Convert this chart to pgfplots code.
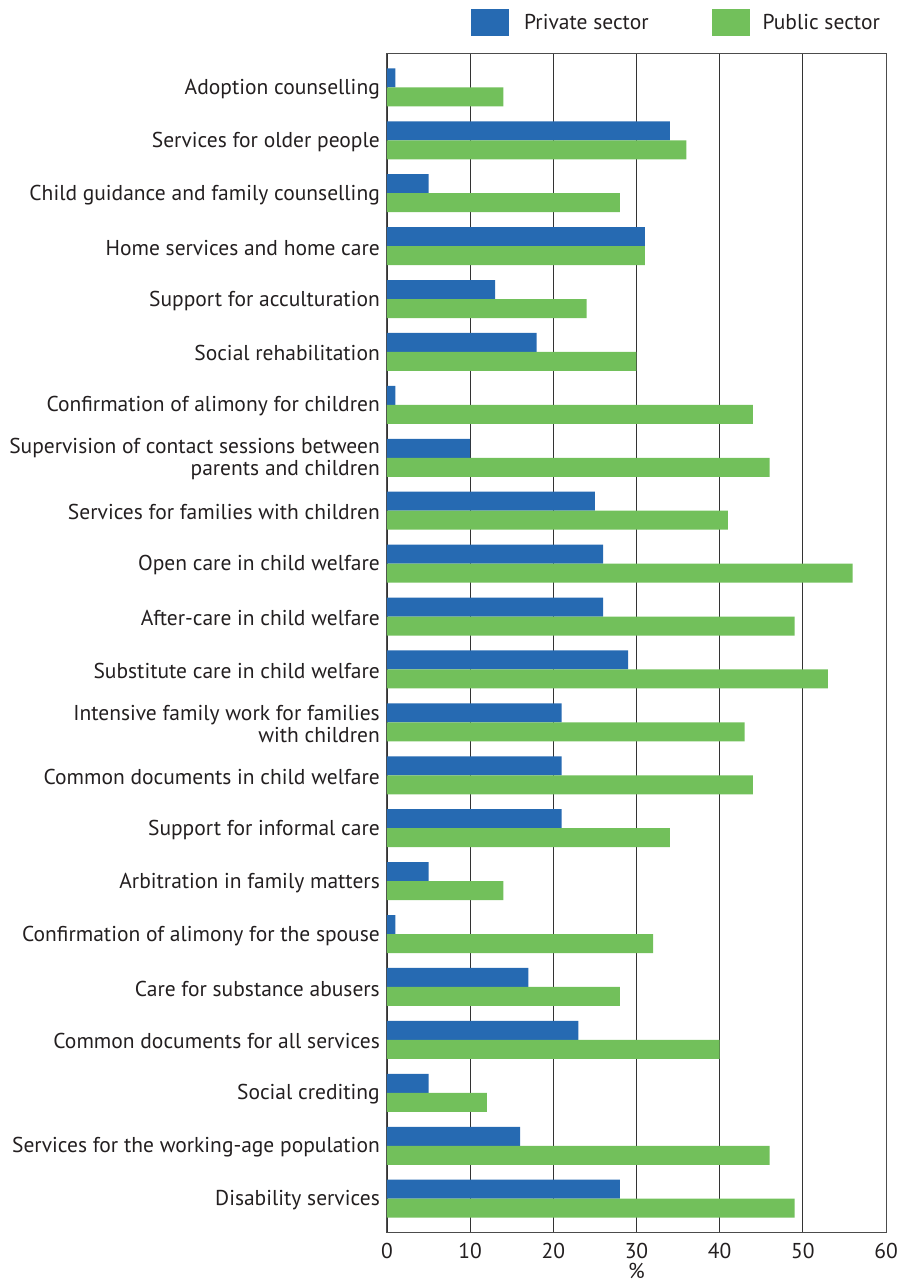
\documentclass[border=0pt]{standalone}
\usepackage{fontspec}
\setmainfont{PT Sans}
\usepackage{pgfplots}
\usepackage{pgfplotstable}
\pgfplotsset{compat=1.18}
\definecolor{privblue}{HTML}{266AB2}
\definecolor{pubgreen}{HTML}{72C05B}
\definecolor{txt}{HTML}{231F20}
\newcommand\lab{\fontsize{21.5}{22}\selectfont}

\pgfplotstableread{
y priv pub
1 1 14
2 34 36
3 5 28
4 31 31
5 13 24
6 18 30
7 1 44
8 10 46
9 25 41
10 26 56
11 26 49
12 29 53
13 21 43
14 21 44
15 21 34
16 5 14
17 1 32
18 17 28
19 23 40
20 5 12
21 16 46
22 28 49
}\datatable

\begin{document}
\begin{tikzpicture}
\path[use as bounding box] (-387pt,-50pt) rectangle (516pt,1232pt);
\begin{axis}[
  at={(0,0)}, anchor=south west,
  scale only axis, width=499pt, height=1178pt,
  xbar, bar width=0.359,
  xmin=0, xmax=60, ymin=0.37, ymax=22.63, y dir=reverse,
  xtick={0,10,...,60},
  ytick={1,...,22},
  yticklabels={
    Adoption counselling,
    Services for older people,
    Child guidance and family counselling,
    Home services and home care,
    Support for acculturation,
    Social rehabilitation,
    Confirmation of alimony for children,
    {Supervision of contact sessions between\\parents and children},
    Services for families with children,
    Open care in child welfare,
    After-care in child welfare,
    Substitute care in child welfare,
    {Intensive family work for families\\with children},
    Common documents in child welfare,
    Support for informal care,
    Arbitration in family matters,
    Confirmation of alimony for the spouse,
    Care for substance abusers,
    Common documents for all services,
    Social crediting,
    Services for the working-age population,
    Disability services},
  yticklabel style={font=\lab, text=txt, align=right, inner sep=0pt, xshift=-7pt, yshift=-1.5pt},
  xticklabel style={font=\lab, text=txt, inner sep=0pt, yshift=-11pt},
  /pgf/number format/assume math mode=true,
  major tick length=0pt,
  tick style={draw=none},
  xmajorgrids, grid style={black!80, line width=0.9pt},
  axis line style={black!70, line width=1pt},
  xlabel={\%}, xlabel style={font=\lab, text=txt, inner sep=0pt, yshift=-4pt},
  legend columns=2,
  legend style={draw=none, fill=none, inner sep=0pt, font=\lab, text=txt,
    at={(0.1683,1.0267)}, anchor=west,
    nodes={inner sep=0pt},
    /tikz/column 1/.style={column sep=15pt},
    /tikz/column 2/.style={column sep=63pt},
    /tikz/column 3/.style={column sep=13pt}},
  legend image code/.code={\fill[#1, draw=none] (0pt,-13.5pt) rectangle (38pt,13.5pt);},
]
\addplot[fill=privblue, draw=none, bar shift=-0.1795] table[x=priv, y=y] {\datatable};
\addplot[fill=pubgreen, draw=none, bar shift=0.1795] table[x=pub, y=y] {\datatable};
\legend{Private sector, Public sector}
\end{axis}
\end{tikzpicture}
\end{document}
